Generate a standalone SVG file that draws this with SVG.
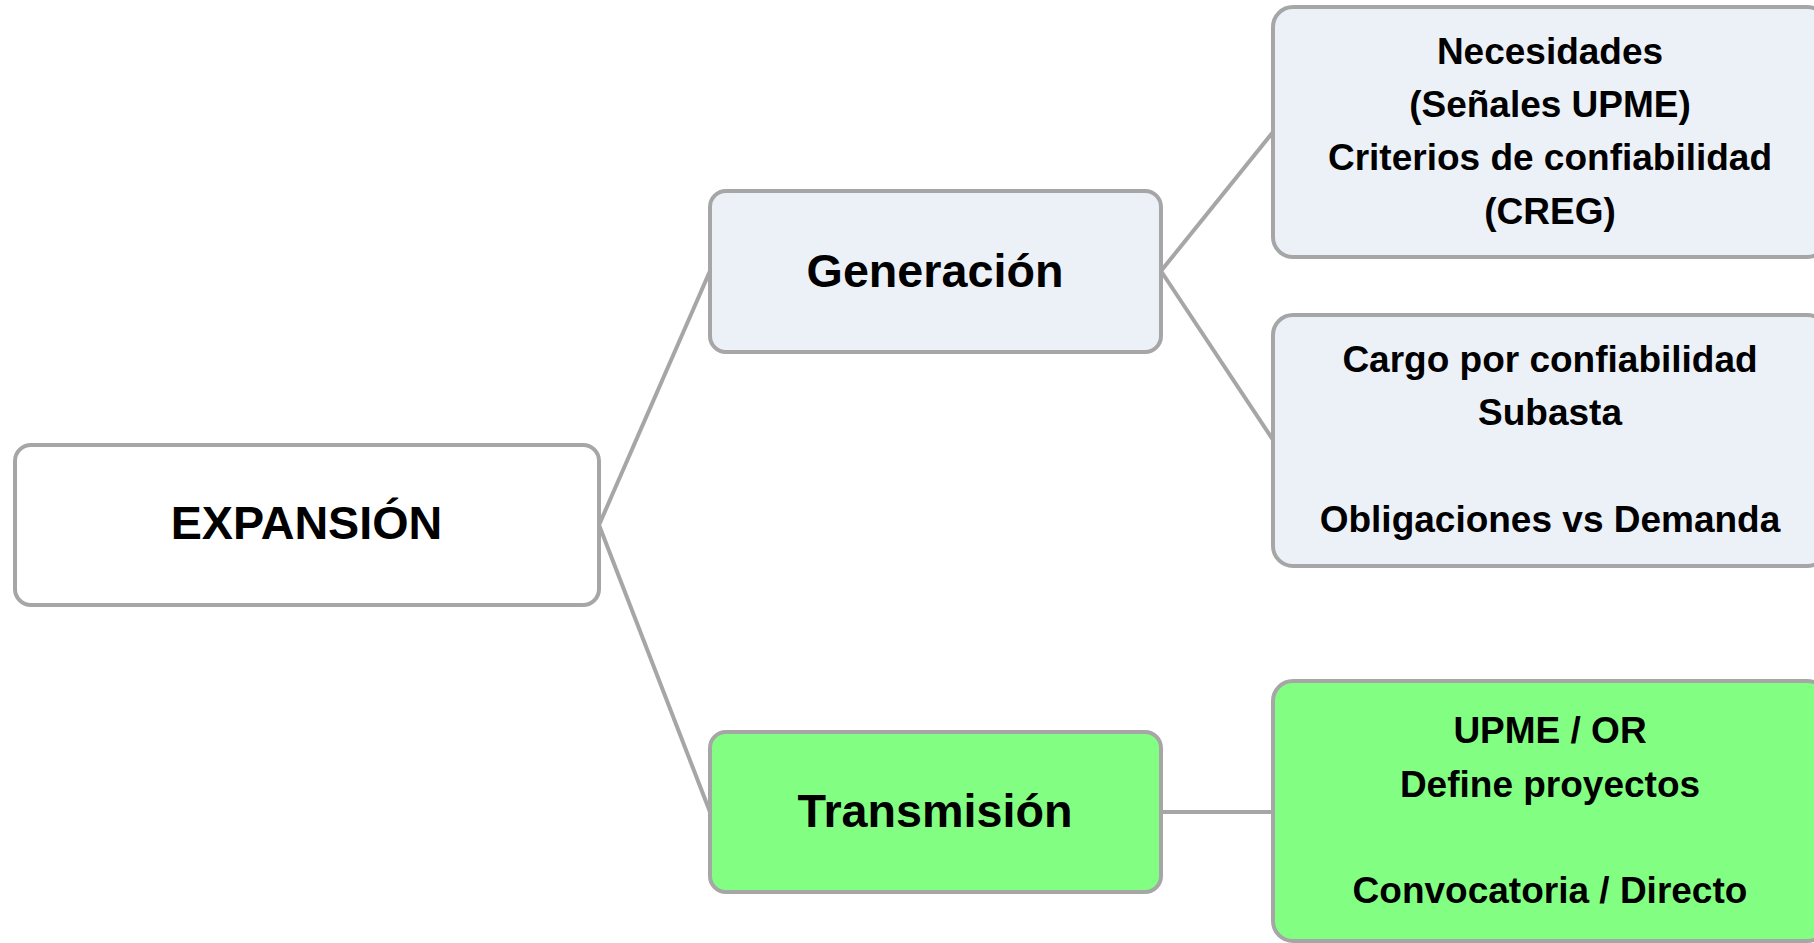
<svg xmlns="http://www.w3.org/2000/svg" width="1814" height="943" viewBox="0 0 1814 943">
<style>
.box{stroke:#a6a6a6;stroke-width:4}
.white{fill:#ffffff}
.blue{fill:#ecf1f8}
.green{fill:#82ff82}
.big{font-family:"Liberation Sans",Arial,sans-serif;font-weight:bold;font-size:46.7px;fill:#000;text-anchor:middle}
.small{font-family:"Liberation Sans",Arial,sans-serif;font-weight:bold;font-size:37px;fill:#000;text-anchor:middle}
.conn{stroke:#a6a6a6;stroke-width:4;fill:none}
</style>
<rect width="1814" height="943" fill="#ffffff"/>
<g id="connectors">
<line class="conn" x1="599" y1="525" x2="710" y2="271"/>
<line class="conn" x1="599" y1="525" x2="710" y2="812"/>
<line class="conn" x1="1161" y1="271" x2="1273" y2="132"/>
<line class="conn" x1="1161" y1="271" x2="1273" y2="440"/>
<line class="conn" x1="1161" y1="812" x2="1273" y2="812"/>
</g>
<g id="expansion">
<rect class="box white" x="15" y="445" width="584" height="160" rx="16" ry="16"/>
<text class="big" x="306.5" y="539">EXPANSIÓN</text>
</g>
<g id="generacion">
<rect class="box blue" x="710" y="191" width="451" height="161" rx="16" ry="16"/>
<text class="big" x="935" y="287">Generación</text>
</g>
<g id="transmision">
<rect class="box green" x="710" y="732" width="451" height="160" rx="16" ry="16"/>
<text class="big" x="935" y="827">Transmisión</text>
</g>
<g id="necesidades">
<rect class="box blue" x="1273" y="7" width="554" height="250" rx="20" ry="20"/>
<text class="small" x="1550" y="63.5">Necesidades</text>
<text class="small" x="1550" y="117">(Señales UPME)</text>
<text class="small" x="1550" y="170.3">Criterios de confiabilidad</text>
<text class="small" x="1550" y="223.6">(CREG)</text>
</g>
<g id="cargo">
<rect class="box blue" x="1273" y="315" width="554" height="251" rx="20" ry="20"/>
<text class="small" x="1550" y="371.5">Cargo por confiabilidad</text>
<text class="small" x="1550" y="425">Subasta</text>
<text class="small" x="1550" y="531.7">Obligaciones vs Demanda</text>
</g>
<g id="upme">
<rect class="box green" x="1273" y="681" width="554" height="260" rx="20" ry="20"/>
<text class="small" x="1550" y="743">UPME / OR</text>
<text class="small" x="1550" y="796.5">Define proyectos</text>
<text class="small" x="1550" y="903">Convocatoria / Directo</text>
</g>
</svg>
